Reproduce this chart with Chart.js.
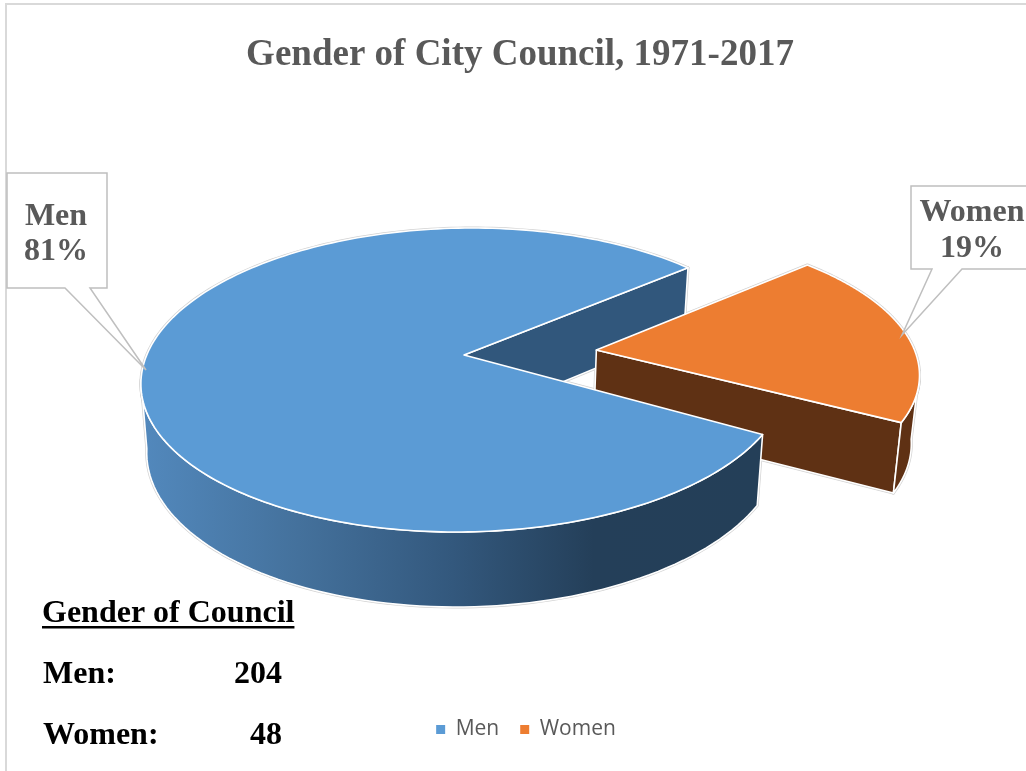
<!DOCTYPE html>
<html><head><meta charset="utf-8">
<style>html,body{margin:0;padding:0;background:#fff}#w{position:absolute;left:0;top:0;width:1026px;height:771px}</style>
<script src="https://cdn.jsdelivr.net/npm/chart.js@4"></script></head>
<body><div id="w"><canvas id="c" width="1026" height="771"></canvas></div>
<script>
const categories = ['Men', 'Women'];
const counts = [204, 48];
const sliceColors = ['#5B9BD5', '#ED7D31'];
const titleText = 'Gender of City Council, 1971-2017';
const tableTitle = 'Gender of Council';

const TILT = [152 / 323, 0.445], SHEAR = [0.054, -0.065], FACE_CY = 380, CY_SHIFT = 0.285, APEX_LIFT = [25, 21];
const total = counts.reduce((a, b) => a + b, 0);
const pctText = i => Math.round(counts[i] / total * 100) + '%';

function pieGeometry(chart) {
  return chart.getDatasetMeta(0).data.map((arc, i) => {
    const mid = (arc.startAngle + arc.endAngle) / 2, off = arc.options.offset || 0;
    return {
      start: arc.startAngle, end: arc.endAngle, r: arc.outerRadius, pivot: arc.x,
      cx: arc.x + Math.cos(mid) * off,
      cy: FACE_CY + Math.sin(mid) * off * CY_SHIFT,
      lift: APEX_LIFT[i], tilt: TILT[i], shear: SHEAR[i]
    };
  });
}
const rimPoint = (g, t) => {
  const dy = Math.sin(t) * g.r * g.tilt;
  return [g.cx + Math.cos(t) * g.r - g.shear * dy, g.cy + dy];
};
const apexPoint = g => [g.cx, g.cy - g.lift];
const lower = (g, p) => [g.pivot + (p[0] - g.pivot) * 0.982, p[1] + 64 + 0.0417 * (p[1] - 268)];

function polyFace(points) {
  return ctx => { ctx.moveTo(points[0][0], points[0][1]); points.slice(1).forEach(p => ctx.lineTo(p[0], p[1])); ctx.closePath(); };
}
function topFace(g) {
  const pts = [apexPoint(g)];
  for (let k = 0; k <= 240; k++) pts.push(rimPoint(g, g.start + (g.end - g.start) * k / 240));
  return polyFace(pts);
}
function sideFace(g, from, to) {
  const up = [], down = [];
  for (let k = 0; k <= 80; k++) {
    const p = rimPoint(g, from + (to - from) * k / 80);
    up.push(p); down.push(lower(g, p));
  }
  return polyFace(up.concat(down.reverse()));
}
function wallFace(g, t) {
  const a = apexPoint(g), e = rimPoint(g, t);
  return polyFace([a, e, lower(g, e), lower(g, a)]);
}
const pie3d = {
  id: 'pie3d',
  afterLayout(chart) {
    chart.titleBlock.left += 56; chart.titleBlock.right += 56;
    chart.legend.left += 62; chart.legend.right += 62;
  },
  beforeDraw(chart) {
    const ctx = chart.ctx;
    ctx.save();
    ctx.strokeStyle = '#D9D9D9'; ctx.lineWidth = 2;
    ctx.beginPath(); ctx.moveTo(6, 771); ctx.lineTo(6, 4); ctx.lineTo(1026, 4); ctx.stroke();
    ctx.restore();
  },
  beforeDatasetsDraw(chart) {
    const ctx = chart.ctx;
    const [men, women] = pieGeometry(chart);
    const grad = ctx.createLinearGradient(145, 0, 760, 0);
    grad.addColorStop(0, '#5288BC'); grad.addColorStop(0.25, '#44719C');
    grad.addColorStop(0.5, '#33587D'); grad.addColorStop(0.73, '#243F59'); grad.addColorStop(1, '#243F58');
    const faces = [
      [wallFace(men, men.end), '#31577C'],
      [wallFace(women, women.end), '#5F3114'],
      [sideFace(women, 2 * Math.PI, women.end), '#5F3114'],
      [topFace(women), sliceColors[1]],
      [sideFace(men, men.start, Math.PI), grad],
      [topFace(men), sliceColors[0]]
    ];
    ctx.save();
    ctx.lineJoin = 'round';
    ctx.strokeStyle = '#D2D2D2'; ctx.lineWidth = 3;
    faces.forEach(f => { ctx.beginPath(); f[0](ctx); ctx.stroke(); });
    ctx.strokeStyle = '#FFFFFF'; ctx.lineWidth = 1.6;
    faces.forEach(f => { ctx.beginPath(); f[0](ctx); ctx.fillStyle = f[1]; ctx.fill(); ctx.stroke(); });
    ctx.restore();
    return false;
  },
  afterDraw(chart) {
    const ctx = chart.ctx;
    ctx.save();
    const callout = (pts, x, y0, y1, i) => {
      ctx.beginPath(); pts.forEach((p, k) => k ? ctx.lineTo(p[0], p[1]) : ctx.moveTo(p[0], p[1]));
      ctx.closePath(); ctx.fillStyle = '#fff'; ctx.fill();
      ctx.strokeStyle = '#BFBFBF'; ctx.lineWidth = 1.5; ctx.stroke();
      ctx.fillStyle = '#595959'; ctx.font = 'bold 32px "Liberation Serif"'; ctx.textAlign = 'center'; ctx.textBaseline = 'alphabetic';
      ctx.fillText(categories[i], x, y0); ctx.fillText(pctText(i), x, y1);
    };
    callout([[7,173],[107,173],[107,288],[90,288],[146,370],[65,288],[7,288]], 56, 225, 260, 0);
    callout([[911,186],[1030,186],[1030,269],[962,269],[902,335],[932,269],[911,269]], 972, 221, 257, 1);
    ctx.fillStyle = '#000'; ctx.font = 'bold 32px "Liberation Serif"'; ctx.textAlign = 'left';
    ctx.fillText(tableTitle, 42, 622);
    ctx.fillRect(42, 626, ctx.measureText(tableTitle).width, 2.5);
    const rows = [683, 744];
    categories.forEach((c, i) => {
      ctx.textAlign = 'left'; ctx.fillText(c + ':', 43, rows[i]);
      ctx.textAlign = 'right'; ctx.fillText(String(counts[i]), 282, rows[i]);
    });
    ctx.restore();
  }
};
Chart.defaults.animation = false;
new Chart(document.getElementById('c'), {
  type: 'pie',
  plugins: [pie3d],
  data: { labels: categories, datasets: [{ data: counts, backgroundColor: sliceColors, borderWidth: 0, offset: [0, 136] }] },
  options: {
    responsive: false, animation: false,
    rotation: 111, radius: 323,
    layout: { padding: { right: 98, bottom: 21 } },
    plugins: {
      tooltip: { enabled: false },
      title: { display: true, text: titleText, color: '#595959', font: { family: '"Liberation Serif"', size: 37, weight: 'bold' }, padding: { top: 33, bottom: 0 } },
      legend: { position: 'bottom', labels: { color: '#595959', font: { family: '"Open Sans"', size: 21 }, boxWidth: 9, boxHeight: 9, padding: 21 } }
    }
  }
});
</script></body></html>
